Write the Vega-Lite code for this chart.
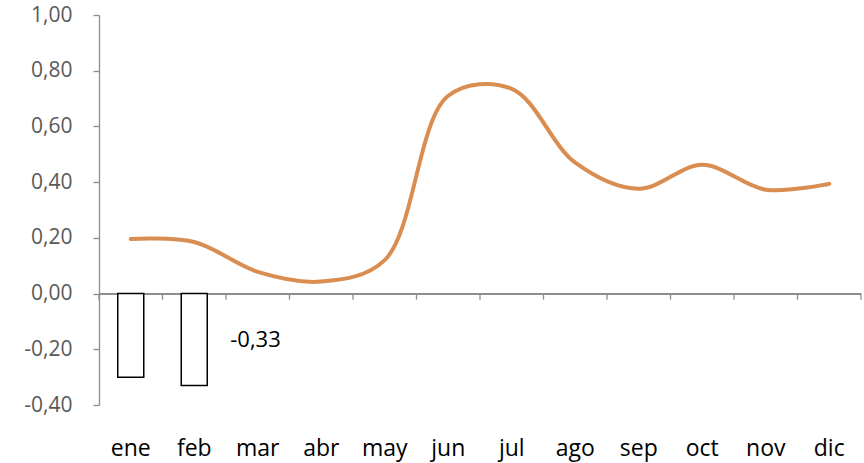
{
  "$schema": "https://vega.github.io/schema/vega-lite/v6.json",
  "autosize": "none",
  "width": 762,
  "height": 390,
  "padding": {"left": 99, "top": 15, "right": 3, "bottom": 58},
  "background": "white",
  "config": {
    "view": {"stroke": null},
    "font": "Open Sans",
    "locale": {"number": {"decimal": ",", "thousands": ".", "grouping": [3], "currency": ["", " €"], "minus": "-"}}
  },
  "data": {
    "values": [
      {"mes": "ene", "indice": 0.196, "var": -0.30},
      {"mes": "feb", "indice": 0.185, "var": -0.33},
      {"mes": "mar", "indice": 0.078, "var": null},
      {"mes": "abr", "indice": 0.043, "var": null},
      {"mes": "may", "indice": 0.12, "var": null},
      {"mes": "jun", "indice": 0.71, "var": null},
      {"mes": "jul", "indice": 0.735, "var": null},
      {"mes": "ago", "indice": 0.47, "var": null},
      {"mes": "sep", "indice": 0.376, "var": null},
      {"mes": "oct", "indice": 0.462, "var": null},
      {"mes": "nov", "indice": 0.373, "var": null},
      {"mes": "dic", "indice": 0.394, "var": null}
    ]
  },
  "encoding": {
    "x": {
      "field": "mes", "type": "nominal",
      "sort": ["ene","feb","mar","abr","may","jun","jul","ago","sep","oct","nov","dic"],
      "scale": {"paddingInner": 0, "paddingOuter": 0},
      "axis": {"title": null, "domain": false, "ticks": false, "labelAngle": 0, "labelFontSize": 23, "labelColor": "#000000", "labelPadding": 32, "labelFont": "Open Sans"}
    }
  },
  "layer": [
    {
      "mark": {"type": "rule", "color": "#8c8c8c", "strokeWidth": 1.3},
      "encoding": {
        "x": null,
        "y": {"datum": 0, "type": "quantitative",
          "scale": {"domain": [-0.4, 1.0], "nice": false, "zero": false},
          "axis": {"title": null, "values": [-0.4,-0.2,0,0.2,0.4,0.6,0.8,1.0], "format": ".2f", "grid": false, "domainColor": "#8c8c8c", "domainWidth": 1.3, "tickColor": "#8c8c8c", "tickWidth": 1.3, "tickSize": 6, "labelPadding": 21, "labelFontSize": 21, "labelColor": "#595959", "labelFont": "Open Sans"}}
      }
    },
    {
      "mark": {"type": "rule", "color": "#8c8c8c", "strokeWidth": 1.3},
      "encoding": {
        "x": {"field": "mes", "type": "nominal", "bandPosition": 0, "sort": ["ene","feb","mar","abr","may","jun","jul","ago","sep","oct","nov","dic"]},
        "y": {"datum": 0, "type": "quantitative"},
        "y2": {"datum": -0.022}
      }
    },
    {
      "transform": [{"filter": "datum.mes == 'dic'"}],
      "mark": {"type": "rule", "color": "#8c8c8c", "strokeWidth": 1.3},
      "encoding": {
        "x": {"field": "mes", "type": "nominal", "bandPosition": 1, "sort": ["ene","feb","mar","abr","may","jun","jul","ago","sep","oct","nov","dic"]},
        "y": {"datum": 0, "type": "quantitative"},
        "y2": {"datum": -0.022}
      }
    },
    {
      "transform": [{"filter": "datum['var'] != null"}],
      "mark": {"type": "bar", "width": 26, "fill": "white", "stroke": "black", "strokeWidth": 1.5},
      "encoding": {
        "y": {"field": "var", "type": "quantitative"},
        "y2": {"datum": 0}
      }
    },
    {
      "transform": [{"filter": "datum.mes == 'feb'"}],
      "mark": {"type": "text", "align": "left", "baseline": "middle", "dx": 36, "dy": -46, "fontSize": 22, "color": "#000000", "font": "Open Sans"},
      "encoding": {
        "y": {"field": "var", "type": "quantitative"},
        "text": {"field": "var", "type": "quantitative", "format": ".2f"}
      }
    },
    {
      "mark": {"type": "line", "interpolate": "catmull-rom", "color": "#D98D50", "strokeWidth": 4, "strokeCap": "round"},
      "encoding": {
        "y": {"field": "indice", "type": "quantitative"}
      }
    }
  ]
}
